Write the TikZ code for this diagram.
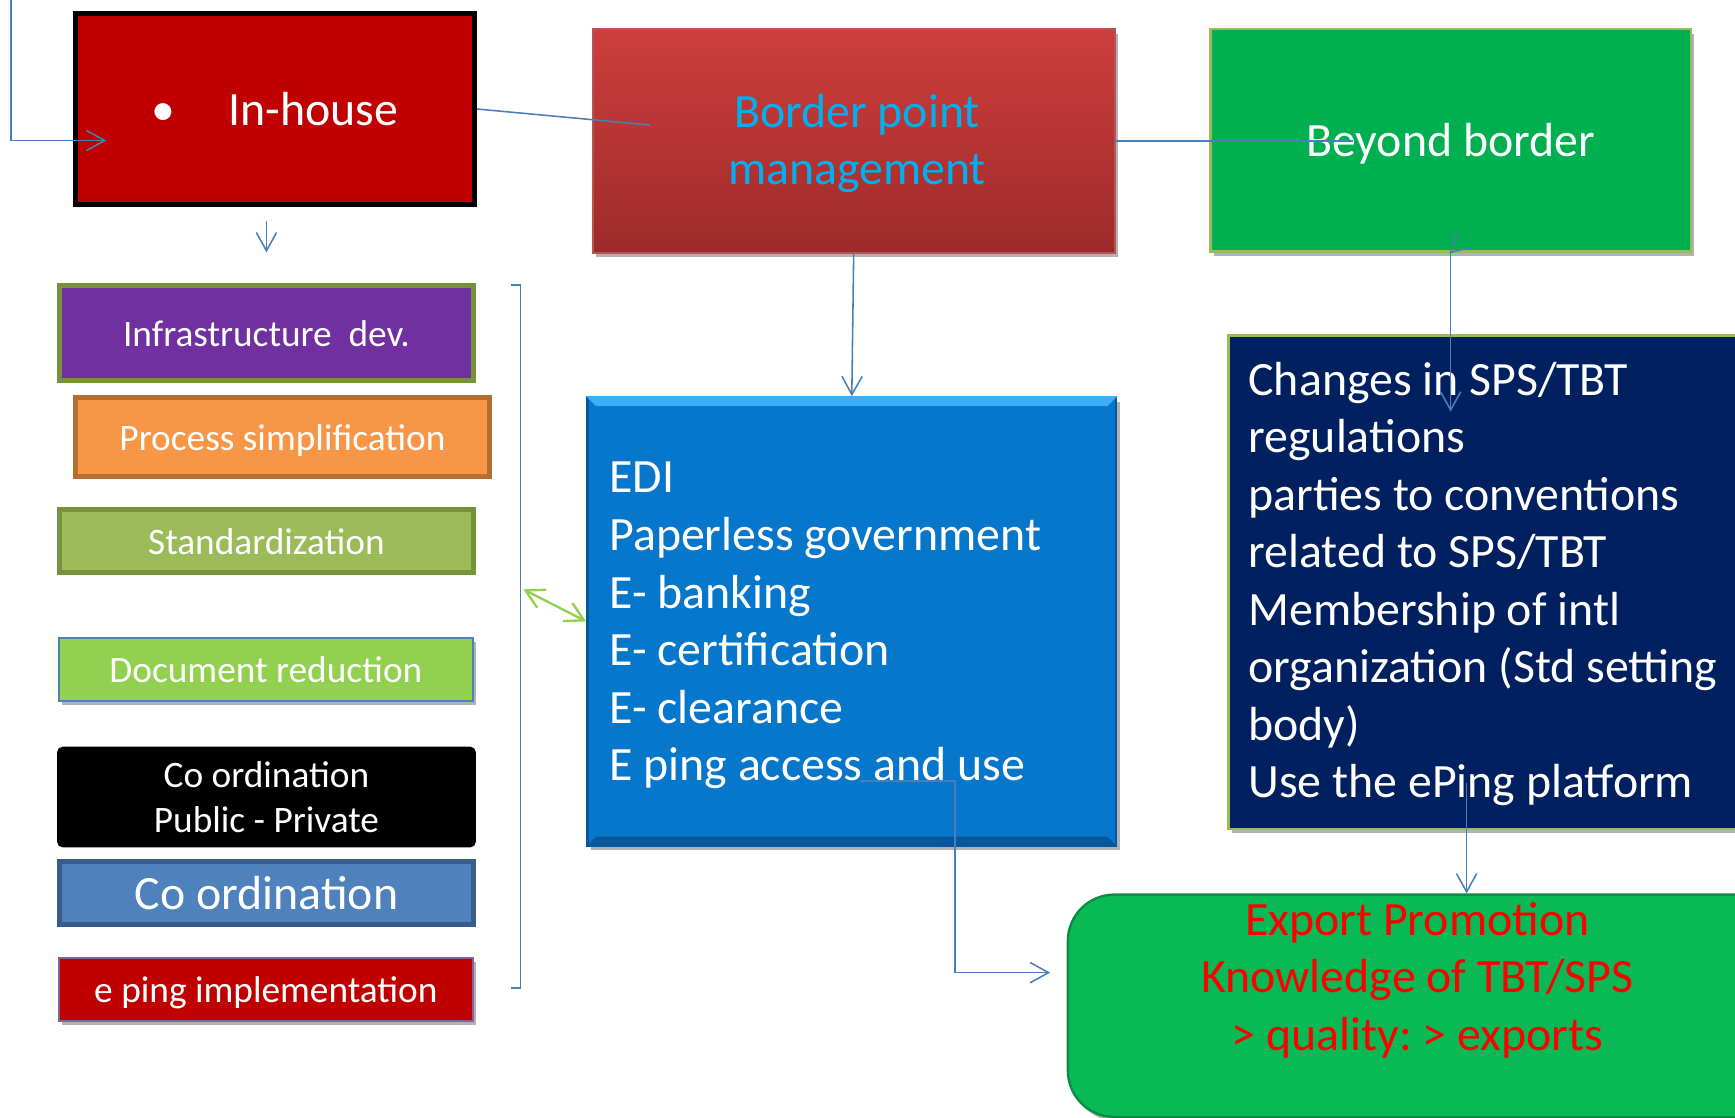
\documentclass[tikz,border=0pt]{standalone}
\usepackage{fontspec}
\setmainfont{Carlito}
\usetikzlibrary{arrows.meta,shadows}

\definecolor{inred}{RGB}{192,0,0}
\definecolor{purp}{RGB}{112,48,160}
\definecolor{olivedk}{RGB}{118,146,60}
\definecolor{olivel}{RGB}{155,187,89}
\definecolor{orng}{RGB}{247,150,70}
\definecolor{orngdk}{RGB}{182,109,49}
\definecolor{lgreen}{RGB}{146,208,80}
\definecolor{docblue}{RGB}{79,129,189}
\definecolor{coordbd}{RGB}{56,93,138}
\definecolor{epingbd}{RGB}{128,100,162}
\definecolor{bptop}{RGB}{205,62,59}
\definecolor{bpbot}{RGB}{157,43,42}
\definecolor{bpcyan}{RGB}{0,176,240}
\definecolor{bgreen}{RGB}{0,176,80}
\definecolor{edifill}{RGB}{7,119,204}
\definecolor{edilight}{RGB}{62,172,250}
\definecolor{edidark}{RGB}{5,88,158}
\definecolor{navy}{RGB}{0,32,96}
\definecolor{egreen}{RGB}{8,185,85}
\definecolor{egreenbd}{RGB}{10,140,65}
\definecolor{lineblue}{RGB}{74,126,187}

\tikzset{
  >={Straight Barb[length=4.7pt,width=5.2pt]},
  conn/.style={draw=lineblue,line width=0.4pt},
  greenconn/.style={draw=lgreen,line width=0.6pt},
  dropsh/.style={drop shadow={shadow xshift=0.03cm,shadow yshift=-0.04cm,opacity=0.3,fill=black}},
  box/.style={inner sep=0pt,align=center,text=white},
  oneline/.style={text depth=0pt},
  bigtext/.style={font=\fontsize{12.3}{14.8}\selectfont},
  leftbox/.style={box,minimum width=3.74cm,minimum height=0.57cm,font=\fontsize{9.6}{11.6}\selectfont},
  lines/.style={bigtext,inner sep=0pt,text width=#1},
}

\begin{document}
\begin{tikzpicture}
\useasboundingbox (0,0) rectangle (15.68,-10.095);

%In-house
\node[box,bigtext,oneline,fill=inred,draw=black,line width=1.28pt,minimum width=3.605cm,minimum height=1.725cm] (inhouse) at (2.485,-0.985) {\textbullet\hspace{1.1em}In-house};

%left column
\node[leftbox,oneline,fill=purp,draw=olivedk,line width=1.28pt,minimum height=0.854cm] (infra) at (2.408,-3.01) {Infrastructure\ \ dev.};
\node[leftbox,oneline,fill=orng,draw=orngdk,line width=1.28pt,minimum height=0.715cm] (process) at (2.553,-3.95) {Process simplification};
\node[leftbox,oneline,fill=olivel,draw=olivedk,line width=1.28pt,minimum height=0.567cm] (standard) at (2.408,-4.891) {Standardization};
\node[leftbox,oneline,fill=lgreen,draw=docblue,line width=0.5pt,dropsh] (docred) at (2.403,-6.047) {Document reduction};
\node[leftbox,fill=black,rounded corners=0.05cm,minimum width=3.784cm,minimum height=0.91cm] (coordpp) at (2.408,-7.203) {Co ordination\\Public - Private};
\node[leftbox,bigtext,oneline,fill=docblue,draw=coordbd,line width=1.28pt] (coord) at (2.408,-8.07) {Co ordination};
\node[leftbox,oneline,fill=inred,draw=epingbd,line width=0.5pt,dropsh,minimum height=0.572cm] (eping) at (2.403,-8.94) {e ping implementation};

%Border point
\node[top color=bptop,bottom color=bpbot,draw=bpbot!80!white,line width=0.5pt,dropsh,minimum width=4.72cm,minimum height=2.02cm] (bp) at (7.715,-1.273) {};
\node[lines=4.5cm,align=flush center,text=bpcyan,anchor=base] (bptext) at (7.745,-1.15) {Border point\\management};

%Beyond border
\node[box,bigtext,oneline,fill=bgreen,draw=olivel,line width=0.6pt,dropsh,minimum width=4.34cm,minimum height=2.01cm] (beyond) at (13.11,-1.268) {Beyond border};

%EDI
\node[fill=edifill,draw=edidark,line width=0.6pt,dropsh,minimum width=4.78cm,minimum height=4.05cm] (edi) at (7.698,-5.616) {};
\fill[edilight] (edi.north west) -- (edi.north east) -- ([xshift=-0.09cm,yshift=-0.09cm]edi.north east) -- ([xshift=0.09cm,yshift=-0.09cm]edi.north west) -- cycle;
\fill[edidark] (edi.south west) -- (edi.south east) -- ([xshift=-0.09cm,yshift=0.09cm]edi.south east) -- ([xshift=0.09cm,yshift=0.09cm]edi.south west) -- cycle;
\node[lines=4.3cm,align=flush left,text=white,anchor=base west] (editext) at (5.50,-4.455) {EDI\\Paperless government\\E- banking\\E- certification\\E- clearance\\E ping access and use};

%Changes
\node[fill=navy,draw=olivel,line width=0.6pt,dropsh,anchor=north west,minimum width=5.2cm,minimum height=4.46cm] (changes) at (11.093,-3.02) {};
\node[lines=4.6cm,align=flush left,text=white,anchor=base west] (chgtext) at (11.276,-3.57) {Changes in SPS/TBT\\regulations\\parties to conventions\\related to SPS/TBT\\Membership of intl\\organization (Std setting\\body)\\Use the ePing platform};

%Export
\node[fill=egreen,draw=egreenbd,line width=0.6pt,rounded corners=0.42cm,dropsh,anchor=north west,minimum width=7cm,minimum height=2.01cm] (export) at (9.64,-8.074) {};
\node[lines=5cm,align=flush center,text=red,anchor=base] (exporttext) at (12.81,-8.45) {Export Promotion\\Knowledge of TBT/SPS\\> quality:\ > exports};

%connectors
\coordinate (tl) at (0.097,0);
\coordinate (ihin) at (0.96,-1.27);
\draw[conn,->] (tl) |- (ihin);
\draw[conn,->,shorten <=0.13cm,shorten >=0.28cm] (infra.north |- inhouse.south) -- (infra.north);

\coordinate (bpin) at (5.875,-1.13);
\draw[conn] (inhouse.east) -- (bpin);
\coordinate (bbin) at (12.23,-1.273);
\draw[conn] (bp.east) -- (bbin);
\draw[conn,->] (bp.south) -- (edi.north);

\coordinate (bbt1) at (13.168,-2.107);
\coordinate (bbk) at (13.11,-2.28);
\coordinate (bbt2) at (13.29,-2.235);
\coordinate (chgin) at (13.11,-3.72);
\draw[conn] (bbt1) -- (bbk) -- (bbt2);
\draw[conn,->] (bbk) -- (chgin);

\coordinate (chgout) at (13.254,-7.08);
\draw[conn,->] (chgout) -- (chgout |- export.north);

\coordinate (ediout) at (7.77,-7.058);
\coordinate (edibend) at (8.63,-7.058);
\coordinate (expin) at (9.49,-8.79);
\draw[conn,->] (ediout) -- (edibend) |- (expin);

%bracket
\coordinate (brtop) at (4.705,-2.576);
\coordinate (brbot) at (4.705,-8.93);
\draw[conn] ([xshift=-0.085cm]brtop) -- (brtop) -- (brbot) -- ([xshift=-0.085cm]brbot);
\coordinate (brk) at (4.73,-5.326);
\draw[greenconn,<->] (brk) -- (edi.west);

\end{tikzpicture}
\end{document}
